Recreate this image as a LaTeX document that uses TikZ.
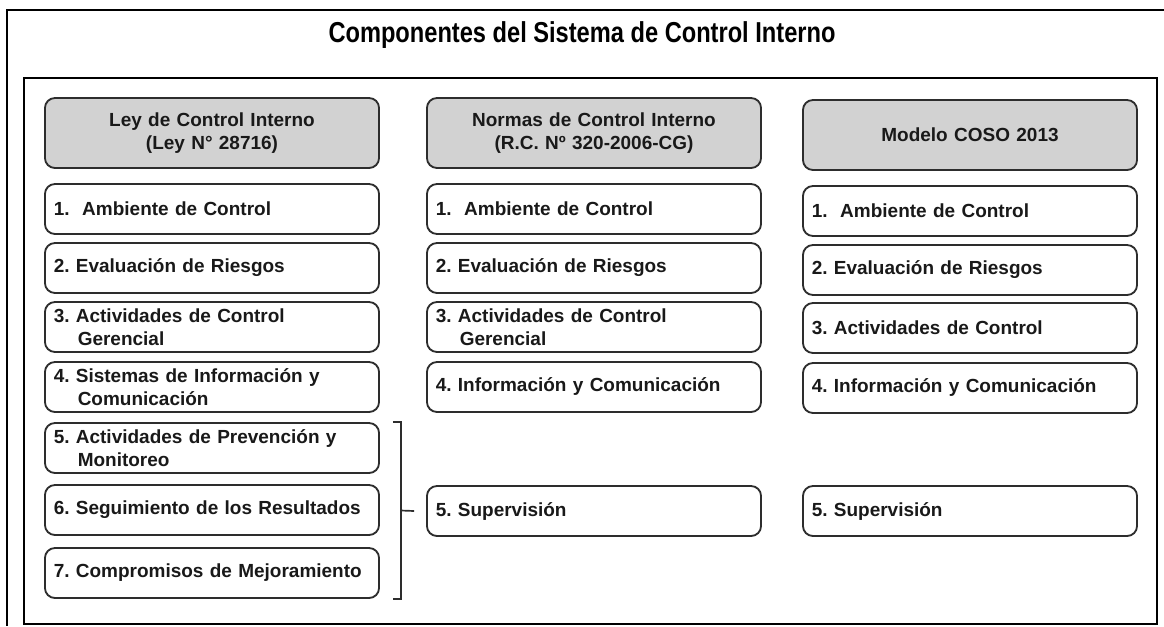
\documentclass[tikz,border=0pt]{standalone}
\usepackage{fontspec}
\setmainfont{Liberation Sans}
\newfontfamily\titlefont{Liberation Sans}[FakeStretch=0.82]
\usepackage{tikz}
\usetikzlibrary{calc}
\definecolor{hdrGray}{RGB}{210,210,210}
\definecolor{edgeGray}{RGB}{45,45,45}
\definecolor{inkDark}{RGB}{25,25,25}
\newcommand{\boxfont}{\fontsize{13.5}{16.5}\selectfont\bfseries\frenchspacing
  \spaceskip=0.2em plus 0.05em minus 0.05em\hyphenpenalty=10000}

\begin{document}
\begin{tikzpicture}[x=0.025cm,y=-0.025cm,
  hdr/.style={draw=edgeGray,line width=1.3pt,fill=hdrGray,rounded corners=0.25cm,
    inner xsep=0.22cm,text width=7.91cm,minimum height=1.75cm,align=center,
    font=\boxfont,text=inkDark},
  item/.style={draw=edgeGray,line width=1.3pt,fill=white,rounded corners=0.25cm,
    inner xsep=0.22cm,text width=7.91cm,minimum height=1.25cm,align=left,
    font=\boxfont,text=inkDark},
  bracket/.style={draw=edgeGray,line width=1.2pt}]
  \useasboundingbox (0,0) rectangle (1164,626);

  % frames
  \draw[line width=1.5pt] (1164,10) -- (7,10) -- (7,626);
  \draw[line width=1.5pt] (24,78) rectangle (1157,624);
  \node[font=\titlefont\fontsize{20.5}{24}\selectfont\bfseries] (title) at (582,35)
    {Componentes del Sistema de Control Interno};

  % Ley de Control Interno
  \node[hdr] (l0) at (212,133) {Ley de Control Interno\\(Ley N° 28716)};
  \node[item] (l1) at (212,209) {1.\ \ Ambiente de Control};
  \node[item] (l2) at (212,268) {2. Evaluación de Riesgos};
  \node[item] (l3) at (212,327) {3. Actividades de Control\\\hspace*{0.6cm}Gerencial};
  \node[item] (l4) at (212,387) {4. Sistemas de Información y\\\hspace*{0.6cm}Comunicación};
  \node[item] (l5) at (212,448) {5. Actividades de Prevención y\\\hspace*{0.6cm}Monitoreo};
  \node[item] (l6) at (212,510) {6. Seguimiento de los Resultados};
  \node[item] (l7) at (212,573) {7. Compromisos de Mejoramiento};

  % Normas de Control Interno
  \node[hdr] (n0) at (594,133) {Normas de Control Interno\\(R.C. Nº 320-2006-CG)};
  \node[item] (n1) at (594,209) {1.\ \ Ambiente de Control};
  \node[item] (n2) at (594,268) {2. Evaluación de Riesgos};
  \node[item] (n3) at (594,327) {3. Actividades de Control\\\hspace*{0.6cm}Gerencial};
  \node[item] (n4) at (594,387) {4. Información y Comunicación};
  \node[item] (n5) at (594,511) {5. Supervisión};

  % Modelo COSO 2013
  \node[hdr] (c0) at (970,135) {Modelo COSO 2013};
  \node[item] (c1) at (970,211) {1.\ \ Ambiente de Control};
  \node[item] (c2) at (970,270) {2. Evaluación de Riesgos};
  \node[item] (c3) at (970,328) {3. Actividades de Control};
  \node[item] (c4) at (970,388) {4. Información y Comunicación};
  \node[item] (c5) at (970,511) {5. Supervisión};

  % bracket 5-7 -> Supervision
  \coordinate (brk) at ($(l5.north east)!0.5!(l7.south east)+(21,0)$);
  \draw[bracket] ($(l5.north east)+(13,0)$) -| ($(l7.south east)+(21,0)$) -- ++(-8,0);
  \draw[bracket] (brk) -- ($(n5.west)+(-12,0)$);
\end{tikzpicture}
\end{document}
